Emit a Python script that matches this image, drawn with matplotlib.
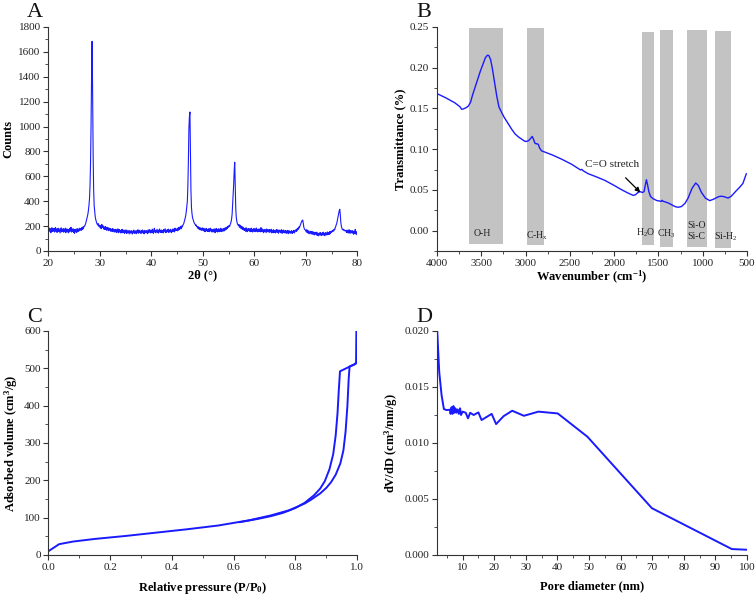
import numpy as np
import matplotlib
matplotlib.use("Agg")
import matplotlib.pyplot as plt
from matplotlib.ticker import MultipleLocator, FormatStrFormatter

plt.rcParams['font.family'] = ['Liberation Serif', 'DejaVu Serif']
plt.rcParams['mathtext.fontset'] = 'custom'
plt.rcParams['mathtext.rm'] = 'Liberation Serif'
plt.rcParams['mathtext.it'] = 'Liberation Serif:italic'
plt.rcParams['mathtext.bf'] = 'Liberation Serif:bold'

# ---------------- Panel A: XRD ----------------
two_theta = np.round(np.arange(20.0, 80.001, 0.1), 2)
counts = [
    175, 155, 184, 162, 179, 147, 172, 187, 158, 176,
    160, 181, 152, 173, 189, 157, 177, 149, 171, 183,
    156, 178, 163, 145, 174, 186, 154, 172, 159, 180,
    151, 173, 159, 184, 147, 170, 178, 155, 175, 146,
    171, 154, 182, 160, 191, 152, 174, 157, 179, 149,
    169, 142, 175, 155, 172, 148, 180, 159, 156, 177,
    162, 183, 168, 181, 166, 188, 173, 193, 179, 198,
    198, 205, 215, 228, 245, 262, 280, 300, 330, 370,
    420, 520, 700, 1000, 1400, 1685, 1300, 800, 500, 370,
    320, 280, 255, 240, 225, 215, 208, 220, 200, 195,
    208, 185, 202, 179, 213, 189, 188, 201, 175, 193,
    173, 196, 178, 167, 191, 169, 187, 163, 183, 168,
    181, 159, 177, 165, 156, 180, 162, 174, 152, 172,
    157, 175, 149, 169, 155, 178, 146, 166, 173, 151,
    165, 144, 171, 152, 174, 147, 162, 168, 142, 164,
    149, 170, 140, 161, 146, 166, 152, 137, 163, 148,
    143, 165, 150, 136, 160, 145, 168, 147, 141, 162,
    158, 139, 164, 147, 171, 143, 160, 166, 146, 161,
    141, 163, 149, 169, 144, 161, 138, 166, 151, 147,
    164, 146, 159, 140, 170, 149, 162, 173, 145, 160,
    166, 147, 175, 153, 142, 171, 183, 151, 165, 146,
    161, 174, 149, 168, 144, 163, 177, 152, 166, 148,
    169, 151, 164, 145, 173, 154, 166, 179, 147, 165,
    152, 171, 156, 176, 149, 167, 155, 174, 158, 147,
    170, 155, 178, 159, 173, 153, 184, 163, 176, 165,
    178, 162, 185, 168, 191, 173, 188, 198, 179, 201,
    192, 205, 212, 220, 235, 250, 268, 290, 320, 360,
    400, 520, 720, 980, 1080, 1117, 760, 480, 350, 300,
    270, 255, 240, 228, 222, 215, 205, 210, 198, 192,
    198, 179, 193, 175, 189, 169, 184, 172, 166, 186,
    179, 162, 183, 167, 155, 177, 160, 182, 165, 157,
    175, 158, 180, 155, 172, 183, 159, 174, 152, 169,
    173, 154, 178, 160, 147, 171, 181, 157, 175, 152,
    168, 179, 155, 173, 159, 183, 156, 171, 177, 158,
    173, 181, 162, 185, 169, 188, 175, 193, 182, 199,
    192, 205, 198, 210, 222, 235, 260, 300, 380, 450,
    540, 650, 713, 520, 340, 270, 240, 222, 212, 205,
    213, 192, 208, 185, 201, 179, 196, 173, 191, 169,
    183, 165, 179, 159, 187, 167, 155, 178, 163, 181,
    162, 177, 155, 173, 184, 157, 175, 152, 171, 180,
    159, 178, 155, 172, 185, 157, 174, 153, 171, 178,
    157, 175, 154, 188, 163, 155, 176, 160, 147, 172,
    155, 174, 159, 147, 177, 157, 171, 152, 167, 173,
    150, 169, 155, 174, 145, 165, 153, 171, 147, 166,
    162, 145, 168, 152, 173, 149, 164, 143, 169, 154,
    166, 147, 161, 171, 142, 163, 150, 169, 146, 160,
    148, 165, 142, 160, 147, 166, 139, 158, 163, 145,
    157, 143, 163, 147, 140, 161, 149, 166, 145, 159,
    160, 172, 158, 178, 168, 185, 176, 195, 190, 205,
    215, 228, 238, 245, 249, 225, 195, 180, 172, 168,
    168, 153, 171, 147, 163, 142, 161, 149, 137, 158,
    151, 137, 158, 140, 133, 153, 139, 129, 150, 136,
    138, 151, 125, 145, 133, 122, 143, 130, 149, 127,
    141, 124, 146, 132, 151, 127, 142, 123, 147, 133,
    145, 128, 153, 135, 148, 132, 155, 138, 151, 159,
    150, 162, 155, 168, 160, 175, 170, 185, 195, 210,
    220, 240, 262, 285, 305, 325, 335, 290, 230, 200,
    185, 172, 171, 175, 165, 169, 161, 165, 163, 149,
    168, 147, 163, 145, 171, 152, 142, 165, 149, 161,
    143, 163, 147, 135, 158, 142, 173, 137, 155, 132,
    130,
]

# ---------------- Panel B: FTIR ----------------
wavenumber = [3996, 3900, 3800, 3740, 3722, 3700, 3670, 3646, 3620, 3600, 3570, 3540,
              3510, 3477, 3455, 3432, 3415, 3395, 3375, 3350, 3325, 3301, 3270, 3241,
              3200, 3160, 3121, 3080, 3040, 3010, 2989, 2965, 2945, 2925, 2910, 2895,
              2880, 2869, 2855, 2840, 2820, 2700, 2594, 2480, 2380, 2365, 2350, 2293,
              2200, 2105, 2000, 1917, 1850, 1786, 1760, 1729, 1705, 1680, 1662, 1648,
              1636, 1622, 1609, 1590, 1560, 1520, 1466, 1459, 1445, 1410, 1380, 1353,
              1320, 1297, 1270, 1240, 1200, 1165, 1120, 1079, 1050, 1015, 970, 921,
              880, 827, 800, 771, 740, 715, 680, 621, 580, 546, 508]
transmittance = [0.168, 0.163, 0.157, 0.152, 0.149, 0.1495, 0.151, 0.153, 0.158, 0.166,
                 0.176, 0.186, 0.196, 0.2055, 0.212, 0.2153, 0.215, 0.210, 0.199, 0.182,
                 0.165, 0.152, 0.145, 0.139, 0.132, 0.125, 0.119, 0.115, 0.112, 0.1098,
                 0.1095, 0.1105, 0.113, 0.1156, 0.112, 0.1075, 0.1065, 0.1068, 0.1055,
                 0.101, 0.098, 0.093, 0.0878, 0.0815, 0.0745, 0.0752, 0.0735, 0.0699,
                 0.0660, 0.0617, 0.0555, 0.0503, 0.0465, 0.0433, 0.0440, 0.0470, 0.0478,
                 0.0468, 0.0480, 0.0560, 0.0625, 0.0560, 0.0482, 0.0420, 0.0392, 0.0370,
                 0.0359, 0.0372, 0.0360, 0.0348, 0.0335, 0.0319, 0.0300, 0.0290, 0.0288,
                 0.0296, 0.0335, 0.0400, 0.0520, 0.0585, 0.0555, 0.0470, 0.0400, 0.0368,
                 0.0385, 0.0414, 0.0422, 0.0420, 0.0410, 0.0400, 0.0420, 0.0490, 0.0536,
                 0.0580, 0.0698]

band_labels = ['O-H', 'C-H$_\\mathregular{x}$', 'H$_\\mathregular{2}$O', 'CH$_\\mathregular{3}$',
               'Si-O\nSi-C', 'Si-H$_\\mathregular{2}$']
band_hi = [3640, 2985, 1682, 1486, 1181, 858]
band_lo = [3258, 2796, 1547, 1339, 952, 681]
band_top = [0.249, 0.249, 0.2443, 0.246, 0.246, 0.2455]
band_bottom = [-0.017, -0.018, -0.018, -0.0196, -0.0196, -0.021]
label_x = [3494, 2874, 1644, 1407, 1072, 745]
label_y = [-0.004, -0.006, -0.002, -0.004, 0.0, -0.007]

# ---------------- Panel C: N2 isotherm ----------------
p_ads = [0.0, 0.035, 0.08, 0.15, 0.25, 0.35, 0.45, 0.55, 0.65, 0.72, 0.78, 0.83,
         0.85, 0.88, 0.90, 0.915, 0.93, 0.945, 0.955, 0.962, 0.968, 0.972, 0.975,
         0.99, 0.996, 0.997]
v_ads = [10, 29, 36, 43, 51, 60, 69, 79, 93, 106, 120, 138,
         148, 165, 180, 195, 215, 245, 280, 330, 400, 470, 505,
         510, 515, 600]
p_des = [0.996, 0.944, 0.94, 0.936, 0.93, 0.922, 0.91, 0.895, 0.88, 0.86, 0.83,
         0.80, 0.76, 0.72, 0.68, 0.62]
v_des = [513, 492, 440, 380, 320, 270, 230, 198, 178, 160, 140,
         126, 113, 104, 97, 88]

# ---------------- Panel D: pore size distribution ----------------
pore_d = [1.97, 2.6, 3.35, 4.08, 4.93, 5.99, 6.2, 6.5, 6.8, 7.1, 7.4, 7.7, 8.0, 8.4,
          8.8, 9.2, 9.5, 10.0, 11.0, 11.7, 12.4, 13.5, 15.0, 16.0, 19.2, 20.6,
          23.0, 25.7, 29.4, 34.0, 40.1, 49.5, 69.9, 95.2, 100.0]
dvdd = [0.0200, 0.01635, 0.01427, 0.01303, 0.01294, 0.01297, 0.0126, 0.0132, 0.0126,
        0.0133, 0.0127, 0.0131, 0.0127, 0.0130, 0.0126, 0.0131, 0.0125, 0.0128,
        0.0127, 0.0122, 0.0127, 0.0125, 0.01273, 0.01205, 0.0126, 0.01169,
        0.0124, 0.01288, 0.01243, 0.0128, 0.01264, 0.01056, 0.00418, 0.00053, 0.00047]

# ---------------- Figure ----------------
fig = plt.figure(figsize=(7.55, 5.96), dpi=100)
W, H = 755, 596


def make_ax(l, r, t, b):
    return fig.add_axes([l / W, 1 - b / H, (r - l) / W, (b - t) / H])


axA = make_ax(48.3, 357.3, 27, 251)
axB = make_ax(437, 747, 27, 251)
axC = make_ax(48.3, 357.3, 331, 555)
axD = make_ax(437, 747, 331, 555)

TICK_FS = 8
LAB_FS = 9
for ax in (axA, axB, axC, axD):
    ax.spines['top'].set_visible(False)
    ax.spines['right'].set_visible(False)
    for s in ('left', 'bottom'):
        ax.spines[s].set_linewidth(0.8)
        ax.spines[s].set_color('#333333')
    ax.tick_params(which='major', direction='out', length=3.5, width=0.8,
                   labelsize=TICK_FS, colors='#333333', labelcolor='#222222', pad=2)
    ax.tick_params(which='minor', direction='out', length=2, width=0.6, colors='#333333')

# Panel A
axA.plot(two_theta, counts, color='#1a1aff', lw=0.8)
axA.set_xlim(20, 80)
axA.set_ylim(0, 1800)
axA.xaxis.set_major_locator(MultipleLocator(10))
axA.xaxis.set_minor_locator(MultipleLocator(5))
axA.yaxis.set_major_locator(MultipleLocator(200))
axA.yaxis.set_minor_locator(MultipleLocator(100))
axA.set_xlabel('2θ (°)', fontsize=LAB_FS, fontweight='bold', labelpad=1)
axA.set_ylabel('Counts', fontsize=LAB_FS, fontweight='bold', labelpad=3)

# Panel B
for lo, hi, top, bot in zip(band_lo, band_hi, band_top, band_bottom):
    axB.bar(lo, top - bot, width=hi - lo, bottom=bot, align='edge',
            color='#c3c3c3', edgecolor='none', zorder=1)
for lab, lx, ly in zip(band_labels, label_x, label_y):
    axB.text(lx, ly, lab, fontsize=7, ha='center', va='center', color='#222222',
             linespacing=1.3, zorder=3)
axB.plot(wavenumber, transmittance, color='#1a1aff', lw=1.0, zorder=2)
axB.annotate('C=O stretch', xy=(1705, 0.047), xytext=(2020, 0.081),
             fontsize=8, ha='center', va='center', color='#222222',
             arrowprops=dict(arrowstyle='-|>', color='black', lw=0.9,
                             mutation_scale=7, shrinkA=6, shrinkB=0), zorder=4)
axB.set_xlim(4000, 500)
axB.set_ylim(-0.025, 0.25)
axB.xaxis.set_major_locator(MultipleLocator(500))
axB.xaxis.set_minor_locator(MultipleLocator(250))
axB.yaxis.set_major_locator(MultipleLocator(0.05))
axB.yaxis.set_minor_locator(MultipleLocator(0.025))
axB.yaxis.set_major_formatter(FormatStrFormatter('%.2f'))
axB.set_xlabel('Wavenumber (cm$^{\\mathbf{-1}}$)', fontsize=LAB_FS, fontweight='bold', labelpad=1)
axB.set_ylabel('Transmittance (%)', fontsize=LAB_FS, fontweight='bold', labelpad=3)

# Panel C
axC.plot(p_ads, v_ads, color='#1a1aff', lw=1.4)
axC.plot(p_des, v_des, color='#1a1aff', lw=1.4)
axC.set_xlim(0, 1.0)
axC.set_ylim(0, 600)
axC.xaxis.set_major_locator(MultipleLocator(0.2))
axC.xaxis.set_minor_locator(MultipleLocator(0.1))
axC.yaxis.set_major_locator(MultipleLocator(100))
axC.yaxis.set_minor_locator(MultipleLocator(50))
axC.xaxis.set_major_formatter(FormatStrFormatter('%.1f'))
axC.set_xlabel('Relative pressure (P/P$_{\\mathbf{0}}$)', fontsize=LAB_FS, fontweight='bold', labelpad=6)
axC.set_ylabel('Adsorbed volume (cm$^{\\mathbf{3}}$/g)', fontsize=LAB_FS, fontweight='bold', labelpad=3)

# Panel D
axD.plot(pore_d, dvdd, color='#1a1aff', lw=1.4)
axD.set_xlim(1.9, 100)
axD.set_ylim(0, 0.020)
axD.xaxis.set_major_locator(MultipleLocator(10))
axD.xaxis.set_minor_locator(MultipleLocator(5))
axD.yaxis.set_major_locator(MultipleLocator(0.005))
axD.yaxis.set_minor_locator(MultipleLocator(0.0025))
axD.yaxis.set_major_formatter(FormatStrFormatter('%.3f'))
axD.set_xlabel('Pore diameter (nm)', fontsize=LAB_FS, fontweight='bold', labelpad=6)
axD.set_ylabel('dV/dD (cm$^{\\mathbf{3}}$/nm/g)', fontsize=LAB_FS, fontweight='bold', labelpad=3)

# Panel letters
for letter, x, y in (('A', 27, 17), ('B', 416, 17), ('C', 27, 322), ('D', 416, 322)):
    fig.text(x / W, 1 - y / H, letter, fontsize=16, ha='left', va='baseline', color='#111111')

fig.savefig('out.png', dpi=100)
